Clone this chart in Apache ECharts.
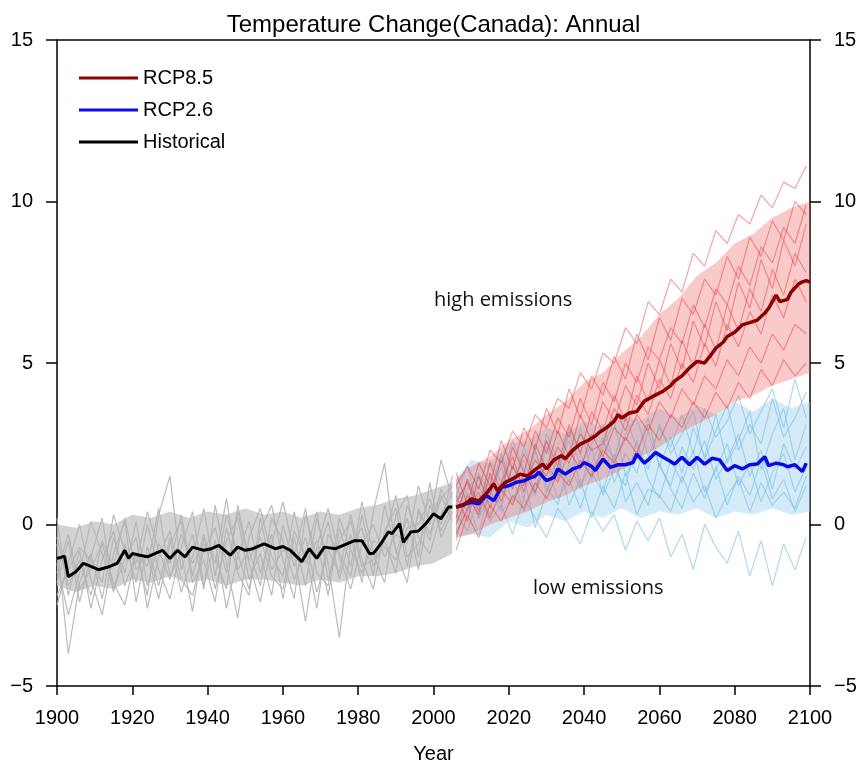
<!DOCTYPE html>
<html><head><meta charset="utf-8">
<script src="https://cdn.jsdelivr.net/npm/echarts@6/dist/echarts.min.js"></script>
<style>html,body{margin:0;padding:0;background:#fff}#c{width:867px;height:769px}</style>
</head><body><div id="c"></div>
<script>
// ---- axis ticks ----
const xTicks = [1900,1920,1940,1960,1980,2000,2020,2040,2060,2080,2100];
const yTicks = [-5,0,5,10,15];

// ---- ensemble member years ----
const histYears = [1900,1903,1906,1909,1912,1915,1918,1921,1924,1927,1930,1933,1936,1939,1942,1945,1948,1951,1954,1957,1960,1963,1966,1969,1972,1975,1978,1981,1984,1987,1990,1993,1996,1999,2002,2005];
const futYears = [2006,2009,2012,2015,2018,2021,2024,2027,2030,2033,2036,2039,2042,2045,2048,2051,2054,2057,2060,2063,2066,2069,2072,2075,2078,2081,2084,2087,2090,2093,2096,2099];

// ---- historical members (grey) ----
const histM1 = [-0.6,-4.0,-1.8,-0.9,-2.3,-0.4,-1.5,0.1,-1.9,-0.6,-1.2,0.3,-1.6,-0.3,-2.0,-0.5,0.2,-1.7,-0.9,-2.2,0.0,-1.3,-0.4,-2.1,-0.8,-1.5,0.3,-1.1,-2.0,-0.2,0.5,-1.3,0.4,-0.5,1.1,0.3];
const histM2 = [-1.8,-0.5,-2.4,-1.0,0.2,-2.1,-0.6,-1.8,0.0,-1.4,-2.3,-0.7,0.4,-1.9,-0.5,-2.6,-1.0,0.1,-1.5,-0.3,-2.3,-0.4,-1.9,0.2,-1.2,-3.5,-0.6,-0.1,-1.6,0.6,-0.8,-1.8,0.5,-0.3,0.8,1.2];
const histM3 = [0.2,-2.2,-0.8,-2.6,-1.1,-0.2,-1.9,-0.9,-2.2,0.3,1.5,-1.4,-0.3,-2.0,0.6,-1.2,-2.9,-0.4,0.5,-1.0,-1.6,0.4,-1.2,-0.5,-2.2,-0.1,-1.3,0.7,-0.9,-1.8,0.3,0.9,-1.0,1.3,-0.4,0.4];
const histM4 = [-2.5,-1.2,0.0,-1.7,-2.8,-0.9,0.1,-2.4,-0.7,-1.9,-0.4,-2.1,-1.0,0.5,-1.6,0.3,-0.9,-2.0,-0.2,0.6,-1.1,-2.3,0.3,-1.0,0.1,-1.7,-0.3,-1.8,0.4,1.9,-0.9,0.2,-1.4,0.6,0.0,1.5];
const histM5 = [-1.2,-2.8,-1.5,0.1,-0.9,-2.0,-1.1,-0.4,-2.6,-1.0,-0.2,-1.7,-2.2,-0.8,-0.1,-1.5,0.4,-1.2,-2.4,-0.6,0.7,-0.9,-3.0,-0.7,0.5,-1.0,-2.0,-0.6,0.0,-1.0,-0.3,-0.6,1.2,0.0,2.0,0.8];
const histM6 = [-1.5,-0.3,-2.0,-1.4,-0.6,-1.8,-2.5,-0.9,-1.3,0.5,-1.6,-0.9,-2.7,-0.4,-1.2,0.8,-1.4,-0.8,-1.9,0.2,-0.5,-1.7,-0.8,-2.6,-0.3,-0.9,-1.6,0.3,-1.3,-0.5,-1.5,0.6,-0.4,-0.9,0.3,1.0];
const histM7 = [-0.4,-1.9,-1.1,-2.2,-0.5,-1.3,0.2,-1.4,-0.9,-2.3,-0.6,0.1,-1.8,-1.1,-2.4,-0.1,-1.5,-2.2,0.2,-1.4,-0.8,-1.0,0.5,-1.5,-1.9,0.2,-0.8,-1.5,-0.5,-0.7,-1.1,-0.1,0.0,0.8,-0.2,0.6];
const histM8 = [-2.2,-1.4,-0.7,-1.1,-1.8,0.3,-0.8,-1.2,0.4,-0.8,-1.7,-0.3,-1.2,-0.6,-1.0,-2.0,0.6,-1.1,-0.4,-1.6,-2.0,-0.2,-1.0,0.4,-1.7,-0.5,0.1,-1.3,-1.1,-0.4,0.9,-1.0,-0.6,0.2,0.9,0.1];

// ---- RCP8.5 members (red) ----
const r85M1 = [1.2,1.8,1.1,2.3,1.9,2.9,2.4,3.4,3.0,3.9,3.6,4.7,4.2,5.3,5.0,6.1,5.6,6.9,6.5,7.6,7.2,8.4,8.0,9.1,8.7,9.6,9.3,10.2,9.8,10.6,10.4,11.1];
const r85M2 = [-0.8,0.3,-0.4,0.6,0.1,0.9,0.5,1.3,0.8,1.6,1.2,2.0,1.5,2.3,1.9,2.7,2.2,3.1,2.6,3.4,3.0,3.8,3.3,4.1,3.6,4.4,3.9,4.8,4.3,5.1,4.6,5.0];
const r85M3 = [0.2,1.4,0.6,0.9,2.0,1.1,2.2,1.4,2.6,1.8,3.1,2.2,3.5,2.9,4.0,3.2,4.6,3.8,5.1,4.3,5.7,4.9,6.2,5.4,6.8,6.0,7.3,6.6,7.9,7.1,8.4,7.8];
const r85M4 = [0.9,0.1,1.5,0.5,1.3,2.1,1.0,2.5,1.7,2.9,2.1,3.4,2.6,3.8,3.2,4.3,3.7,5.0,4.2,5.6,4.8,6.3,5.5,6.9,6.0,7.5,6.7,8.2,7.3,8.8,8.0,9.3];
const r85M5 = [0.0,0.9,0.3,1.6,0.7,1.8,1.2,2.0,1.5,2.4,1.9,2.8,2.3,2.5,3.6,2.9,4.0,3.4,4.5,3.9,5.0,4.4,5.6,4.9,6.2,5.5,6.6,5.9,7.1,6.4,7.6,6.9];
const r85M6 = [1.6,0.6,1.9,1.2,2.6,1.7,3.0,2.3,3.6,2.8,4.2,3.3,4.6,4.0,5.2,4.5,5.9,5.1,6.4,5.7,7.0,6.5,7.6,7.1,8.3,7.6,8.9,8.3,9.4,8.8,10.0,9.6];
const r85M7 = [-0.3,0.5,1.0,0.2,1.1,0.6,1.6,1.0,1.9,1.3,2.3,1.7,2.8,2.1,3.0,2.6,3.4,2.9,3.8,3.3,4.2,3.7,4.6,4.2,5.1,4.6,5.5,5.0,5.9,5.4,6.2,5.9];
const r85M8 = [0.7,1.3,0.4,1.9,1.0,2.4,1.6,2.9,2.2,3.3,2.7,3.9,3.1,4.4,3.8,5.0,4.4,5.5,5.1,6.1,5.6,6.8,6.1,7.3,6.8,8.0,7.4,8.6,8.1,9.2,8.7,9.9];

// ---- RCP2.6 members (light blue) ----
const r26M1 = [0.3,-0.2,0.9,0.1,0.6,-0.3,0.8,0.2,-0.4,0.5,0.0,-0.6,0.4,-0.2,0.3,-0.8,0.1,-0.5,0.2,-1.0,-0.3,-1.4,0.0,-0.7,-1.2,-0.2,-1.6,-0.5,-1.9,-0.6,-1.4,-0.4];
const r26M2 = [1.2,0.4,1.6,0.9,2.2,1.1,2.4,1.5,2.6,1.4,2.9,1.8,2.5,3.1,1.9,2.8,3.3,2.1,3.0,2.4,3.4,2.2,3.6,2.7,3.2,4.0,2.8,3.5,4.2,3.0,4.5,3.3];
const r26M3 = [-0.5,1.0,0.2,1.5,0.5,1.9,0.8,2.3,1.2,0.6,1.9,1.1,2.4,0.9,1.7,1.2,2.6,1.4,0.8,2.0,1.3,2.3,1.0,1.7,2.5,1.2,1.9,0.7,1.6,2.2,1.0,1.8];
const r26M4 = [0.9,1.8,0.5,2.0,1.3,2.6,1.7,0.9,2.8,2.0,1.3,3.0,1.6,2.4,3.2,1.5,2.2,3.3,1.8,2.7,1.6,3.0,2.1,3.4,1.9,2.6,3.5,1.7,2.8,3.6,2.0,3.1];
const r26M5 = [0.1,0.7,-0.3,1.1,0.4,0.8,1.5,-0.1,1.0,2.1,0.6,1.4,0.2,1.2,0.5,1.6,0.3,1.1,0.9,0.4,1.5,0.7,1.2,0.2,0.9,1.4,0.4,1.3,0.6,1.0,0.5,1.5];
const r26M6 = [0.6,1.4,0.2,0.9,1.8,0.7,1.3,2.3,1.0,1.8,2.6,1.2,1.9,2.7,1.3,2.2,1.6,2.9,1.8,1.2,2.4,1.7,2.6,1.4,2.0,2.8,1.5,2.3,1.1,2.5,1.7,2.4];
const r26M7 = [-0.2,0.4,1.2,0.3,0.9,1.5,0.4,1.2,1.9,0.8,1.4,0.5,1.6,1.0,2.2,0.7,1.3,0.6,1.9,1.1,0.5,1.6,0.8,1.8,0.6,1.5,0.9,2.0,0.8,1.4,0.4,1.2];
const r26M8 = [0.4,1.1,1.5,0.6,2.1,1.4,2.0,1.0,2.4,1.5,3.0,2.2,1.4,2.6,2.0,3.3,2.4,1.7,3.1,2.2,2.8,3.5,2.0,2.9,3.7,2.3,3.1,2.5,3.9,2.7,3.3,4.1];

// ---- ensemble spread (dense part) ----
const histBandYears = [1900,1905,1910,1915,1920,1925,1930,1935,1940,1945,1950,1955,1960,1965,1970,1975,1980,1985,1990,1995,2000,2005];
const histBandLow  = [-1.9,-2.1,-1.9,-2.0,-1.7,-1.8,-1.6,-1.8,-1.7,-1.9,-1.7,-1.7,-1.8,-1.9,-1.7,-1.8,-1.6,-1.6,-1.5,-1.3,-1.2,-0.9];
const histBandHigh = [0.0,-0.1,0.1,0.0,0.3,0.2,0.4,0.2,0.4,0.3,0.5,0.3,0.4,0.2,0.4,0.3,0.5,0.6,0.8,0.9,1.1,1.3];
const futBandYears = [2006,2010,2015,2020,2025,2030,2035,2040,2045,2050,2055,2060,2065,2070,2075,2080,2085,2090,2095,2100];
const r85BandLow  = [-0.4,-0.3,0.0,0.2,0.4,0.7,0.9,1.2,1.4,1.7,2.1,2.4,2.8,3.1,3.4,3.8,4.0,4.3,4.5,4.7];
const r85BandHigh = [1.4,1.8,2.1,2.6,2.9,3.4,3.8,4.4,4.7,5.3,5.8,6.5,7.0,7.7,8.1,8.7,9.0,9.5,9.8,10.0];
const r26BandLow  = [-0.4,-0.3,-0.4,0.1,-0.1,0.3,0.1,0.4,0.2,0.5,0.2,0.4,0.3,0.5,0.2,0.4,0.3,0.5,0.3,0.4];
const r26BandHigh = [1.4,2.0,1.9,2.5,2.6,3.0,2.8,3.2,3.0,3.4,3.2,3.6,3.3,3.7,3.4,3.8,3.5,3.9,3.6,3.8];

// ---- ensemble means ----
const histMeanYears = [1900,1901,1902,1903,1905,1907,1909,1911,1914,1916,1918,1919,1920,1922,1924,1926,1928,1930,1932,1934,1936,1939,1941,1943,1946,1948,1950,1952,1955,1958,1960,1962,1965,1967,1969,1971,1974,1977,1979,1981,1983,1984,1986,1988,1989,1991,1992,1994,1996,1998,2000,2002,2004,2005];
const histMean = [-1.05,-1.02,-0.98,-1.62,-1.46,-1.2,-1.3,-1.4,-1.3,-1.2,-0.8,-1.05,-0.9,-0.95,-1.0,-0.9,-0.8,-1.05,-0.8,-1.0,-0.7,-0.8,-0.75,-0.65,-0.95,-0.7,-0.8,-0.75,-0.6,-0.75,-0.68,-0.8,-1.15,-0.75,-1.05,-0.7,-0.75,-0.6,-0.5,-0.5,-0.9,-0.9,-0.6,-0.23,-0.28,0.03,-0.55,-0.23,-0.2,0.03,0.33,0.18,0.54,0.54];
const r85MeanYears = [2006,2008,2010,2012,2014,2016,2017,2019,2021,2023,2025,2027,2029,2030,2032,2034,2035,2037,2039,2041,2043,2044,2046,2048,2049,2050,2052,2054,2056,2058,2061,2063,2064,2066,2068,2070,2072,2074,2075,2077,2078,2080,2082,2084,2086,2088,2089,2091,2092,2094,2095,2097,2098,2099,2100];
const r85Mean = [0.54,0.6,0.79,0.73,0.95,1.26,1.05,1.3,1.41,1.56,1.5,1.7,1.87,1.72,2.0,2.13,2.03,2.3,2.49,2.6,2.74,2.85,3.0,3.2,3.4,3.3,3.45,3.5,3.82,3.95,4.13,4.3,4.44,4.6,4.85,5.05,5.0,5.3,5.46,5.65,5.82,5.95,6.18,6.25,6.33,6.55,6.69,7.1,6.9,6.97,7.2,7.45,7.51,7.55,7.5];
const r26MeanYears = [2006,2008,2010,2012,2014,2016,2018,2020,2022,2024,2025,2027,2028,2030,2032,2033,2035,2037,2039,2040,2042,2043,2045,2047,2049,2051,2053,2054,2056,2057,2059,2061,2063,2064,2066,2068,2070,2072,2074,2076,2078,2080,2082,2084,2086,2088,2089,2091,2093,2094,2096,2098,2099];
const r26Mean = [0.54,0.62,0.69,0.64,0.9,0.74,1.15,1.2,1.31,1.35,1.41,1.5,1.62,1.36,1.46,1.72,1.56,1.72,1.8,1.92,1.8,1.67,2.03,1.77,1.85,1.85,1.92,2.18,1.9,2.0,2.23,2.08,1.95,1.87,2.08,1.85,2.08,1.87,2.05,2.0,1.67,1.82,1.72,1.85,1.87,2.1,1.82,1.9,1.85,1.79,1.85,1.64,1.9];

// ---- text ----
const titleText = 'Temperature Change(Canada): Annual';
const seriesNames = ['RCP8.5','RCP2.6','Historical'];
const xName = 'Year';
const noteHigh = 'high emissions';
const noteLow = 'low emissions';

// ---- build ----
const pairs = (xs, ys) => xs.map((x, i) => [x, ys[i]]);
const triples = (xs, lo, hi) => xs.map((x, i) => [x, lo[i], hi[i]]);

function memberSeries(years, vals, color, z) {
  return {type:'line', data: pairs(years, vals), symbol:'none', silent:true,
    lineStyle:{color: color, width:1.2}, z: z, animation:false};
}
function bandSeries(years, lo, hi, color, z) {
  return {type:'custom', data: triples(years, lo, hi), silent:true, z:z, animation:false,
    clip:true,
    encode:{x:0, y:[1,2]},
    renderItem: function(params, api) {
      if (params.dataIndexInside !== 0) return null;
      const n = params.dataInsideLength;
      const top = [], bot = [];
      for (let j = 0; j < n; j++) {
        top.push(api.coord([api.value(0, j), api.value(2, j)]));
        bot.push(api.coord([api.value(0, j), api.value(1, j)]));
      }
      return {type:'polygon', shape:{points: top.concat(bot.reverse())},
        style:{fill: color, stroke:null}};
    }
  };
}

const GREY = 'rgba(180,180,180,0.9)';
const PINK = 'rgba(232,50,50,0.45)';
const SKY = 'rgba(120,192,230,0.6)';

const series = [];
series.push(bandSeries(histBandYears, histBandLow, histBandHigh, 'rgba(195,195,195,0.75)', 1));
[histM1,histM2,histM3,histM4,histM5,histM6,histM7,histM8].forEach(m => series.push(memberSeries(histYears, m, GREY, 2)));
series.push(bandSeries(futBandYears, r26BandLow, r26BandHigh, 'rgba(160,210,238,0.45)', 1));
[r26M1,r26M2,r26M3,r26M4,r26M5,r26M6,r26M7,r26M8].forEach(m => series.push(memberSeries(futYears, m, SKY, 2)));
series.push(bandSeries(futBandYears, r85BandLow, r85BandHigh, 'rgba(236,95,95,0.33)', 3));
[r85M1,r85M2,r85M3,r85M4,r85M5,r85M6,r85M7,r85M8].forEach(m => series.push(memberSeries(futYears, m, PINK, 3)));

series.push({name: seriesNames[2], type:'line', data: pairs(histMeanYears, histMean), symbol:'none',
  lineStyle:{color:'#000', width:3}, itemStyle:{color:'#000'}, z:5, animation:false});
series.push({name: seriesNames[1], type:'line', data: pairs(r26MeanYears, r26Mean), symbol:'none',
  lineStyle:{color:'#0a0ae6', width:3.5}, itemStyle:{color:'#0a0ae6'}, z:6, animation:false});
series.push({name: seriesNames[0], type:'line', data: pairs(r85MeanYears, r85Mean), symbol:'none',
  lineStyle:{color:'#8b0000', width:3.5}, itemStyle:{color:'#8b0000'}, z:7, animation:false});

const FONT = 'Liberation Sans';
const axisLabelStyle = {color:'#000', fontSize:20, fontFamily: FONT};
const fmtNum = v => String(v).replace('-', '\u2212');

const yBase = {type:'value', min: yTicks[0], max: yTicks[yTicks.length-1], interval: 5,
  axisLine:{show:true, lineStyle:{color:'#000', width:1.5}},
  axisTick:{show:true, inside:false, length:11, lineStyle:{color:'#000', width:1.5}},
  splitLine:{show:false},
  axisLabel: Object.assign({margin:24, formatter: fmtNum}, axisLabelStyle)};

const option = {
  backgroundColor:'#fff',
  animation:false,
  title:{text: titleText, left:'center', top:8,
    textStyle:{fontFamily: FONT, fontSize:24, fontWeight:'normal', color:'#000'}},
  legend:{data: seriesNames, orient:'vertical', left:74, top:63, itemWidth:59, itemHeight:3,
    itemGap:12, icon:'rect', selectedMode:false,
    textStyle:{fontFamily: FONT, fontSize:20, color:'#000', padding:[0,0,0,0]}},
  grid:{left:57, right:57, top:40, bottom:79, containLabel:false},
  xAxis:[
    {type:'value', min: xTicks[0], max: xTicks[xTicks.length-1], interval:20, position:'bottom',
     name: xName, nameLocation:'middle', nameGap:58,
     nameTextStyle:{fontFamily: FONT, fontSize:20, color:'#000'},
     axisLine:{show:true, onZero:false, lineStyle:{color:'#000', width:1.5}},
     axisTick:{show:true, inside:false, length:9, lineStyle:{color:'#000', width:1.5}},
     splitLine:{show:false},
     axisLabel: Object.assign({margin:22, formatter: v => String(v)}, axisLabelStyle)},
    {type:'value', min: xTicks[0], max: xTicks[xTicks.length-1], position:'top',
     axisLine:{show:true, onZero:false, lineStyle:{color:'#000', width:1.5}},
     axisTick:{show:false}, axisLabel:{show:false}, splitLine:{show:false}}
  ],
  yAxis:[
    Object.assign({}, yBase, {position:'left'}),
    Object.assign({}, yBase, {position:'right'})
  ],
  graphic:[
    {type:'text', left:434, top:290, silent:true, z:20,
     style:{text: noteHigh, fontFamily:'Open Sans', fontSize:20, fill:'#111'}},
    {type:'text', left:533, top:578, silent:true, z:20,
     style:{text: noteLow, fontFamily:'Open Sans', fontSize:20, fill:'#111'}}
  ],
  series: series
};

const chart = echarts.init(document.getElementById('c'), null, {renderer:'canvas'});
chart.setOption(option);
</script></body></html>
